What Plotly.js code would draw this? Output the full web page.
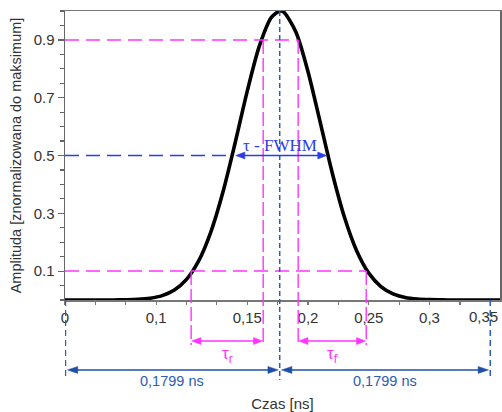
<!DOCTYPE html>
<html>
<head>
<meta charset="utf-8">
<script src="https://cdn.plot.ly/plotly-3.0.1.min.js"></script>
<style>html,body{margin:0;padding:0;background:#fff;}#chart{width:502px;height:412px;}</style>
</head>
<body>
<div id="chart"></div>
<script>
// ---- data ----
const timeNs = [0, 0.01, 0.02, 0.03, 0.04, 0.05, 0.06, 0.07, 0.08, 0.09, 0.10, 0.11, 0.12, 0.13, 0.14, 0.15, 0.16, 0.17, 0.177, 0.18, 0.19, 0.20, 0.21, 0.22, 0.23, 0.24, 0.25, 0.26, 0.27, 0.28, 0.29, 0.30, 0.31, 0.32, 0.33, 0.34, 0.35, 0.36];
const amplitude = [0, 0, 0, 0, 0.0002, 0.0008, 0.0022, 0.0061, 0.0151, 0.0343, 0.0712, 0.1353, 0.2352, 0.3737, 0.5434, 0.7227, 0.8792, 0.9784, 1.0, 0.9960, 0.9275, 0.7900, 0.6156, 0.4388, 0.2861, 0.1706, 0.0931, 0.0465, 0.0212, 0.0089, 0.0034, 0.0012, 0.0004, 0.0001, 0, 0, 0, 0];

// tick labels (the last one sits slightly left of its tick in the source, so it is placed separately)
const xTickVals = [0, 0.075, 0.15, 0.2, 0.25, 0.3];
const xTickText = ['0', '0,1', '0,15', '0,2', '0,25', '0,3'];
const xLastTickVal = 0.3443;
const xLastTickText = '0,35';
const yTickVals = [0.1, 0.3, 0.5, 0.7, 0.9];
const yTickText = ['0.1', '0.3', '0.5', '0.7', '0.9'];

// marker levels and crossing times
const levels = [0.1, 0.5, 0.9];
const riseTimes = [0.1038, 0.1631];   // 10% and 90% on the rising edge
const fallTimes = [0.1919, 0.2479];   // 90% and 10% on the falling edge
const fwhmTimes = [0.1375, 0.2165];   // 50% crossings
const peakTime = 0.1767;
const spanEnd = 0.35;
const spanLabel = '0,1799 ns';

// ---- styling ----
const MAG = '#ff33ff';
const BLUE_D = '#2a5cb8';
const BLUE_ARR = '#1f4fa8';
const BLUE_F = '#2a3ce6';
const yRange = [0, 1];
const yp = v => (v - yRange[0]) / (yRange[1] - yRange[0]); // y value -> paper

const trace = {
  x: timeNs, y: amplitude, type: 'scatter', mode: 'lines',
  line: {color: '#000', width: 3.6, shape: 'spline', smoothing: 0.8},
  hoverinfo: 'skip', showlegend: false
};

const shapes = [
  // horizontal guides
  {type:'line', xref:'x', yref:'y', x0:0, x1:fallTimes[0], y0:levels[2], y1:levels[2], line:{color:MAG, width:1.5, dash:'14px,7px'}},
  {type:'line', xref:'x', yref:'y', x0:0, x1:fwhmTimes[0], y0:levels[1], y1:levels[1], line:{color:BLUE_F, width:1.5, dash:'14px,7px'}},
  {type:'line', xref:'x', yref:'y', x0:0, x1:fallTimes[1], y0:levels[0], y1:levels[0], line:{color:MAG, width:1.5, dash:'14px,7px'}},
  // vertical magenta guides
  {type:'line', xref:'x', yref:'paper', x0:riseTimes[1], x1:riseTimes[1], y0:yp(levels[2]), y1:-0.156, line:{color:MAG, width:1.4, dash:'14px,4px'}},
  {type:'line', xref:'x', yref:'paper', x0:fallTimes[0], x1:fallTimes[0], y0:yp(levels[2]), y1:-0.156, line:{color:MAG, width:1.4, dash:'14px,4px'}},
  {type:'line', xref:'x', yref:'paper', x0:riseTimes[0], x1:riseTimes[0], y0:yp(levels[0]), y1:-0.156, line:{color:MAG, width:1.4, dash:'14px,4px'}},
  {type:'line', xref:'x', yref:'paper', x0:fallTimes[1], x1:fallTimes[1], y0:yp(levels[0]), y1:-0.156, line:{color:MAG, width:1.4, dash:'14px,4px'}},
  // vertical blue guides
  {type:'line', xref:'x', yref:'paper', x0:peakTime, x1:peakTime, y0:1, y1:-0.277, line:{color:BLUE_D, width:1.5, dash:'5px,3px'}},
  {type:'line', xref:'x', yref:'paper', x0:0, x1:0, y0:0, y1:-0.277, line:{color:BLUE_D, width:2.4, dash:'6px,4px'}},
  {type:'line', xref:'x', yref:'paper', x0:spanEnd, x1:spanEnd, y0:0, y1:-0.277, line:{color:BLUE_D, width:1.5, dash:'6px,4px'}}
];

// double-headed arrow built from a line and two filled triangle heads
function addArrow(xa, xb, y, yref, color, headLen, headHalf) {
  shapes.push({type:'line', xref:'x', yref:yref, x0:xa + headLen*0.5, x1:xb - headLen*0.5, y0:y, y1:y,
    line:{color:color, width:1.5}});
  shapes.push({type:'path', xref:'x', yref:yref, fillcolor:color, line:{color:color, width:0.5},
    path:`M ${xa},${y} L ${xa+headLen},${y+headHalf} L ${xa+headLen},${y-headHalf} Z`});
  shapes.push({type:'path', xref:'x', yref:yref, fillcolor:color, line:{color:color, width:0.5},
    path:`M ${xb},${y} L ${xb-headLen},${y+headHalf} L ${xb-headLen},${y-headHalf} Z`});
}
addArrow(fwhmTimes[0] + 0.003, fwhmTimes[1] - 0.001, levels[1], 'y', BLUE_F, 0.0075, 0.012);
addArrow(riseTimes[0] + 0.0005, riseTimes[1] - 0.0005, -0.142, 'paper', MAG, 0.0075, 0.012);
addArrow(fallTimes[0] + 0.0005, fallTimes[1] - 0.0005, -0.142, 'paper', MAG, 0.0075, 0.012);
addArrow(0.002, peakTime - 0.0012, -0.242, 'paper', BLUE_ARR, 0.0085, 0.012);
addArrow(peakTime + 0.0015, spanEnd - 0.0015, -0.242, 'paper', BLUE_ARR, 0.0085, 0.012);

const sans = 'Liberation Sans, Arial, sans-serif';
const annotations = [
  {x:xLastTickVal, y:-0.056, xref:'x', yref:'paper', yanchor:'middle', text:xLastTickText, showarrow:false,
   font:{family:sans, size:15, color:'#333'}},
  {x:peakTime, y:0.535, xref:'x', yref:'y', yanchor:'middle', text:'τ - FWHM', showarrow:false,
   font:{family:'Liberation Serif, DejaVu Serif, serif', size:17, color:BLUE_F}},
  {x:(riseTimes[0]+riseTimes[1])/2, y:-0.19, xref:'x', yref:'paper', yanchor:'middle', text:'τ<sub>r</sub>', showarrow:false,
   font:{family:sans, size:17, color:MAG}},
  {x:(fallTimes[0]+fallTimes[1])/2, y:-0.19, xref:'x', yref:'paper', yanchor:'middle', text:'τ<sub>f</sub>', showarrow:false,
   font:{family:sans, size:17, color:MAG}},
  {x:peakTime/2, y:-0.28, xref:'x', yref:'paper', yanchor:'middle', text:spanLabel, showarrow:false,
   font:{family:sans, size:14.5, color:BLUE_D}},
  {x:(peakTime+spanEnd)/2, y:-0.28, xref:'x', yref:'paper', yanchor:'middle', text:spanLabel, showarrow:false,
   font:{family:sans, size:14.5, color:BLUE_D}}
];

const layout = {
  width: 502, height: 412,
  margin: {l: 65, r: 2, t: 11, b: 112, pad: 0},
  paper_bgcolor: '#fff', plot_bgcolor: '#fff',
  font: {family: sans, color: '#333'},
  showlegend: false,
  xaxis: {
    range: [0, 0.358], showgrid: false, zeroline: false,
    showline: true, linecolor: '#777', linewidth: 1.5, mirror: true,
    tickmode: 'array', tickvals: xTickVals, ticktext: xTickText,
    ticks: 'outside', ticklen: 3, tickcolor: '#777', tickwidth: 1.2,
    tickfont: {size: 15, color: '#333'},
    minor: {tickmode: 'linear', tick0: 0, dtick: 0.025, ticks: 'outside', ticklen: 3, tickcolor: '#777', tickwidth: 1.2},
    title: {text: 'Czas [ns]', font: {size: 15, color: '#333'}, standoff: 74}
  },
  yaxis: {
    range: yRange, showgrid: false, zeroline: false,
    showline: true, linecolor: '#666', linewidth: 1.5, mirror: true,
    tickmode: 'array', tickvals: yTickVals, ticktext: yTickText,
    ticks: 'outside', ticklen: 6, tickcolor: '#666', tickwidth: 1.2,
    tickfont: {size: 15, color: '#333'},
    minor: {tickmode: 'linear', tick0: 0, dtick: 0.05, ticks: 'outside', ticklen: 4, tickcolor: '#666', tickwidth: 1.2},
    title: {text: 'Amplituda [znormalizowana do maksimum]', font: {size: 14.5, color: '#333'}, standoff: 8}
  },
  shapes: shapes,
  annotations: annotations
};

Plotly.newPlot('chart', [trace], layout, {staticPlot: true, displayModeBar: false});
</script>
</body>
</html>
